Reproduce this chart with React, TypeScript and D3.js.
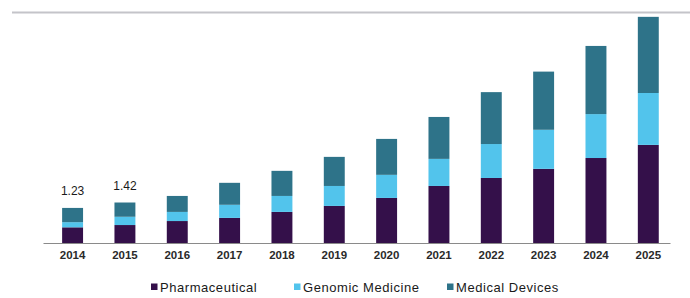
import React, { useCallback, useEffect, useRef } from "react";
import * as d3 from "d3";

// market size by segment, USD billion
const years = [
  "2014", "2015", "2016", "2017", "2018", "2019",
  "2020", "2021", "2022", "2023", "2024", "2025",
];
const pharmaceutical = [0.55, 0.63, 0.77, 0.88, 1.09, 1.3, 1.58, 2.0, 2.28, 2.6, 2.98, 3.44];
const genomicMedicine = [0.18, 0.29, 0.32, 0.46, 0.56, 0.7, 0.81, 0.95, 1.19, 1.37, 1.54, 1.82];
const medicalDevices = [0.5, 0.5, 0.56, 0.77, 0.88, 1.02, 1.26, 1.47, 1.82, 2.04, 2.39, 2.67];

// only the first two totals are printed on the chart
const totalLabels = ["1.23", "1.42"];

const seriesNames = ["Pharmaceutical", "Genomic Medicine", "Medical Devices"];
const seriesColors = ["#34104a", "#52c4ec", "#2e7389"];

const WIDTH = 690;
const HEIGHT = 298;

export default function App() {
  const svgRef = useRef<SVGSVGElement>(null);

  const renderChart = useCallback(() => {
    d3.select(svgRef.current).selectChildren().remove();

    const svg = d3
      .select(svgRef.current)
      .attr("width", WIDTH)
      .attr("height", HEIGHT)
      .style("font-family", "Arial, 'Liberation Sans', sans-serif");

    const baseline = 243;
    const top = 12;

    // the thin grey rule across the top
    svg
      .append("line")
      .attr("x1", 12)
      .attr("x2", WIDTH)
      .attr("y1", 12.5)
      .attr("y2", 12.5)
      .attr("stroke", "#c4c4c9")
      .attr("stroke-width", 2);

    const table = years.map((year, i) => ({
      year,
      Pharmaceutical: pharmaceutical[i],
      "Genomic Medicine": genomicMedicine[i],
      "Medical Devices": medicalDevices[i],
    }));

    const stacked = d3.stack<any>().keys(seriesNames)(table);

    const x = d3
      .scaleBand()
      .domain(years)
      .range([43, 670])
      .paddingInner(0.6)
      .paddingOuter(0.29)
      .align(0.63);

    const y = d3.scaleLinear().domain([0, 8.1]).range([baseline, top]);

    const color = d3.scaleOrdinal<string>().domain(seriesNames).range(seriesColors);

    // stacked bars
    svg
      .append("g")
      .selectAll("g")
      .data(stacked)
      .enter()
      .append("g")
      .attr("fill", (d) => color(d.key))
      .selectAll("rect")
      .data((d) => d)
      .enter()
      .append("rect")
      .attr("x", (d) => x(d.data.year) as number)
      .attr("width", x.bandwidth())
      .attr("y", (d) => y(d[1]))
      .attr("height", (d) => y(d[0]) - y(d[1]));

    // x axis: only the baseline and the year labels
    const axis = svg
      .append("g")
      .attr("transform", "translate(0," + baseline + ")")
      .call(d3.axisBottom(x).tickSize(0).tickPadding(8));
    axis.select(".domain").attr("stroke", "#8a8a8a").attr("stroke-width", 1.2);
    axis
      .selectAll("text")
      .attr("fill", "#2a2a2a")
      .style("font-family", "Arial, 'Liberation Sans', sans-serif")
      .style("font-size", "11.5px")
      .style("font-weight", "bold");

    // total labels over the first bars
    const totals = stacked[stacked.length - 1];
    svg
      .append("g")
      .selectAll("text")
      .data(totalLabels)
      .enter()
      .append("text")
      .attr("x", (d, i) => (x(years[i]) as number) + x.bandwidth() / 2)
      .attr("y", (d, i) => y(totals[i][1]) - 13)
      .attr("text-anchor", "middle")
      .attr("fill", "#1a1a1a")
      .style("font-size", "12px")
      .text((d) => d);

    // legend
    const legendX = [151, 294, 447];
    const legend = svg
      .append("g")
      .selectAll("g")
      .data(seriesNames)
      .enter()
      .append("g")
      .attr("transform", (d, i) => "translate(" + legendX[i] + ",287)");
    legend
      .append("rect")
      .attr("x", 0)
      .attr("y", -3.5)
      .attr("width", 6.5)
      .attr("height", 6.5)
      .attr("fill", (d) => color(d));
    legend
      .append("text")
      .attr("x", 9)
      .attr("y", 0)
      .attr("dy", "0.35em")
      .attr("fill", "#1a1a1a")
      .style("font-size", "13px")
      .style("letter-spacing", "0.55px")
      .text((d) => d);

    return svg;
  }, []);

  useEffect(() => {
    renderChart();
  }, [renderChart]);

  return (
    <svg
      ref={svgRef}
      style={{ position: "absolute", left: 0, top: 0, display: "block", background: "#fff" }}
    ></svg>
  );
}
